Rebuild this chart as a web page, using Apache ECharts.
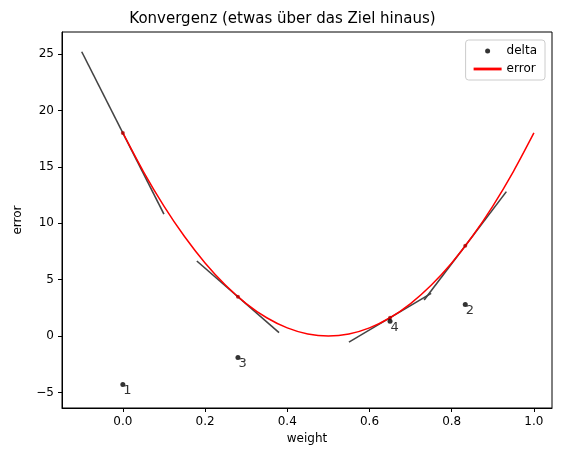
<!DOCTYPE html><html><head><meta charset="utf-8"><script src="https://cdn.jsdelivr.net/npm/echarts@6/dist/echarts.min.js"></script></head><body style="margin:0"><div id="c" style="width:565px;height:455px"></div><script>
const curveW=[0,0.05,0.1,0.15,0.2,0.25,0.3,0.35,0.4,0.45,0.5,0.55,0.6,0.65,0.7,0.75,0.8,0.85,0.9,0.95,1.0];
const curveE=[18,14.58,11.52,8.82,6.48,4.5,2.88,1.62,0.72,0.18,0,0.18,0.72,1.62,2.88,4.5,6.48,8.82,11.52,14.58,18];
const stepW=[0,0.833,0.28,0.65];
const stepE=[18,8.0,3.48,1.62];
const deltaW=[0,0.833,0.28,0.65];
const deltaV=[-4.3,2.8,-1.9,1.3];
const deltaLabels=['1','2','3','4'];
const tanX0=[-0.1,0.733,0.18,0.55];
const tanY0=[25.2,3.2,6.65,-0.54];
const tanX1=[0.1,0.933,0.38,0.75];
const tanY1=[10.8,12.8,0.31,3.78];
const xTicks=[0,0.2,0.4,0.6,0.8,1.0];
const yTicks=[-5,0,5,10,15,20,25];
const ch=echarts.init(document.getElementById('c'));
const series=[];
for(let i=0;i<tanX0.length;i++)series.push({type:'line',data:[[tanX0[i],tanY0[i]],[tanX1[i],tanY1[i]]],symbol:'none',lineStyle:{color:'#444',width:1.6},z:2});
series.push({name:'error',type:'line',smooth:0.3,data:curveW.map((w,i)=>[w,curveE[i]]),symbol:'none',lineStyle:{color:'#ff0000',width:1.5},z:3});
series.push({type:'scatter',data:stepW.map((w,i)=>[w,stepE[i]]),symbolSize:4,itemStyle:{color:'#b00000'},z:4});
series.push({name:'delta',type:'scatter',data:deltaW.map((w,i)=>[w,deltaV[i]]),symbolSize:5,itemStyle:{color:'#000'},z:5,
 label:{show:true,formatter:p=>deltaLabels[p.dataIndex],position:[3,2],color:'#000',fontSize:13,fontFamily:'DejaVu Sans'}});
const lab={color:'#000',fontSize:12,fontFamily:'DejaVu Sans'};
ch.setOption({animation:false,
title:{text:'Konvergenz (etwas über das Ziel hinaus)',left:'center',top:7,textStyle:{fontSize:15,fontWeight:'normal',color:'#000',fontFamily:'DejaVu Sans'}},
legend:{right:20,top:40,orient:'vertical',itemGap:6,borderColor:'#ccc',borderWidth:1,borderRadius:3,padding:[5,8],
 textStyle:{fontSize:12,fontFamily:'DejaVu Sans',color:'#000'},
 data:[{name:'delta',icon:'circle',itemStyle:{color:'#000'}},{name:'error',icon:'path://M0,0L30,0L30,3L0,3Z',itemStyle:{color:'#f00'}}],itemWidth:28,itemHeight:5},
grid:{left:62,right:13,top:32,bottom:47,show:true,borderColor:'#000',borderWidth:1,backgroundColor:'transparent'},
xAxis:{type:'value',min:-0.148,max:1.044,name:'weight',nameLocation:'middle',nameGap:25,nameTextStyle:lab,
 axisLine:{show:true,onZero:false,lineStyle:{color:'#000'}},splitLine:{show:false},axisTick:{show:true,inside:false,customValues:xTicks,lineStyle:{color:'#000'},length:4},
 axisLabel:Object.assign({customValues:xTicks,formatter:v=>v.toFixed(1)},lab)},
yAxis:{type:'value',min:-6.38,max:26.95,name:'error',nameLocation:'middle',nameGap:38,nameTextStyle:lab,
 axisLine:{show:true,onZero:false,lineStyle:{color:'#000'}},splitLine:{show:false},axisTick:{show:true,inside:false,customValues:yTicks,lineStyle:{color:'#000'},length:4},
 axisLabel:Object.assign({customValues:yTicks,formatter:v=>v<0?'−'+(-v):String(v)},lab)},
series});
</script></body></html>
